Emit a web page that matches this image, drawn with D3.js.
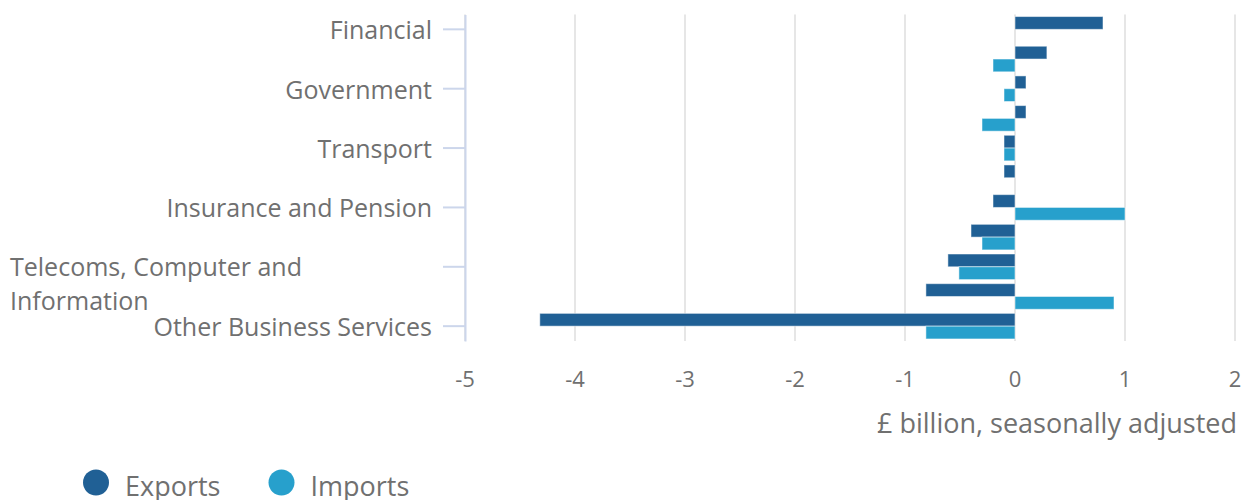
<!DOCTYPE html>
<html>
<head>
<meta charset="utf-8">
<script src="https://cdn.jsdelivr.net/npm/d3@7"></script>
<style>
  body { margin: 0; background: #fff; }
  svg { font-family: 'Open Sans', sans-serif; }
</style>
</head>
<body>
<div id="chart"></div>
<script>
// categories top to bottom, only every second one is labelled on the axis
const categories = [
    "Financial", "Personal, Cultural and Recreational", "Government", "Intellectual Property",
    "Transport", "Travel", "Insurance and Pension", "Construction",
    "Telecoms, Computer and Information", "Maintenance and Repair", "Other Business Services"
];
const exportsData = [0.80, 0.29, 0.10, 0.10, -0.10, -0.10, -0.20, -0.40, -0.61, -0.81, -4.32];
const importsData = [0, -0.20, -0.10, -0.30, -0.10, 0, 1.00, -0.30, -0.51, 0.90, -0.81];
const xTicks = [-5, -4, -3, -2, -1, 0, 1, 2];
const seriesNames = ["Exports", "Imports"];
const colors = { Exports: "#206095", Imports: "#27a0cc" };

const width = 1250, height = 500;
const margin = { top: 14.5, right: 15, bottom: 159, left: 465 };
const innerH = height - margin.top - margin.bottom;

const svg = d3.select("#chart").append("svg")
    .attr("width", width)
    .attr("height", height);

const g = svg.append("g")
    .attr("transform", `translate(${margin.left},${margin.top})`);

const x = d3.scaleLinear().domain([-5, 2]).range([0, 770]);

const y = d3.scaleBand().domain(categories).range([0, innerH]).padding(0);

const ySub = d3.scaleBand().domain(seriesNames)
    .range([0, y.bandwidth()])
    .paddingInner(0)
    .paddingOuter(0.16);

// gridlines
g.append("g")
    .selectAll("line")
    .data(xTicks)
    .join("line")
    .attr("x1", d => x(d))
    .attr("x2", d => x(d))
    .attr("y1", 0)
    .attr("y2", innerH)
    .attr("stroke", "#e6e6e6")
    .attr("stroke-width", 2);

// bars
const rows = categories.map((c, i) => ({ cat: c, Exports: exportsData[i], Imports: importsData[i] }));

const groups = g.append("g")
    .selectAll("g")
    .data(rows)
    .join("g")
    .attr("transform", d => `translate(0,${y(d.cat)})`);

groups.selectAll("rect")
    .data(d => seriesNames.map(s => ({ key: s, value: d[s] })))
    .join("rect")
    .attr("x", d => x(Math.min(0, d.value)))
    .attr("width", d => Math.abs(x(d.value) - x(0)))
    .attr("y", d => ySub(d.key))
    .attr("height", ySub.bandwidth())
    .attr("fill", d => colors[d.key])
    .attr("stroke", "#fff")
    .attr("stroke-opacity", 0.5)
    .attr("stroke-width", 1);

// y axis
const yAxis = g.append("g")
    .call(d3.axisLeft(y)
        .tickValues(categories.filter((d, i) => i % 2 === 0))
        .tickSize(22)
        .tickSizeOuter(0)
        .tickPadding(11));

yAxis.select(".domain").attr("stroke", "#ccd6eb").attr("stroke-width", 2);
yAxis.selectAll(".tick line").attr("stroke", "#ccd6eb").attr("stroke-width", 2);
yAxis.selectAll(".tick text")
    .style("font-size", "25px")
    .style("font-family", "'Open Sans', sans-serif")
    .attr("fill", "#707070")
    .attr("dy", "0.4em")
    .each(function (d) {
        const t = d3.select(this);
        if (d.length > 30) {
            // wrap long label onto two lines, left aligned
            const words = d.split(" ");
            const first = words.slice(0, 3).join(" ");
            const rest = words.slice(3).join(" ");
            t.text(null).attr("text-anchor", "start");
            t.append("tspan").attr("x", -455).attr("dy", "0.36em").text(first);
            t.append("tspan").attr("x", -455).attr("dy", "1.36em").text(rest);
            t.attr("dy", null);
        }
    });

// x axis labels
g.append("g")
    .selectAll("text")
    .data(xTicks)
    .join("text")
    .attr("x", d => x(d))
    .attr("y", innerH + 46)
    .attr("text-anchor", "middle")
    .style("font-size", "22px")
    .attr("fill", "#707070")
    .text(d => d);

// x axis title
g.append("text")
    .attr("x", x(2) + 2)
    .attr("y", innerH + 91.5)
    .attr("text-anchor", "end")
    .style("font-size", "27px")
    .attr("fill", "#707070")
    .text("£ billion, seasonally adjusted");

// legend
const legend = svg.append("g").attr("transform", "translate(96,482.5)");
const legendItems = legend.selectAll("g")
    .data(seriesNames)
    .join("g")
    .attr("transform", (d, i) => `translate(${i * 185.5},0)`);

legendItems.append("circle")
    .attr("r", 13)
    .attr("fill", d => colors[d]);

legendItems.append("text")
    .attr("x", 29)
    .attr("y", 13.5)
    .style("font-size", "27px")
    .attr("fill", "#707070")
    .text(d => d);
</script>
</body>
</html>
